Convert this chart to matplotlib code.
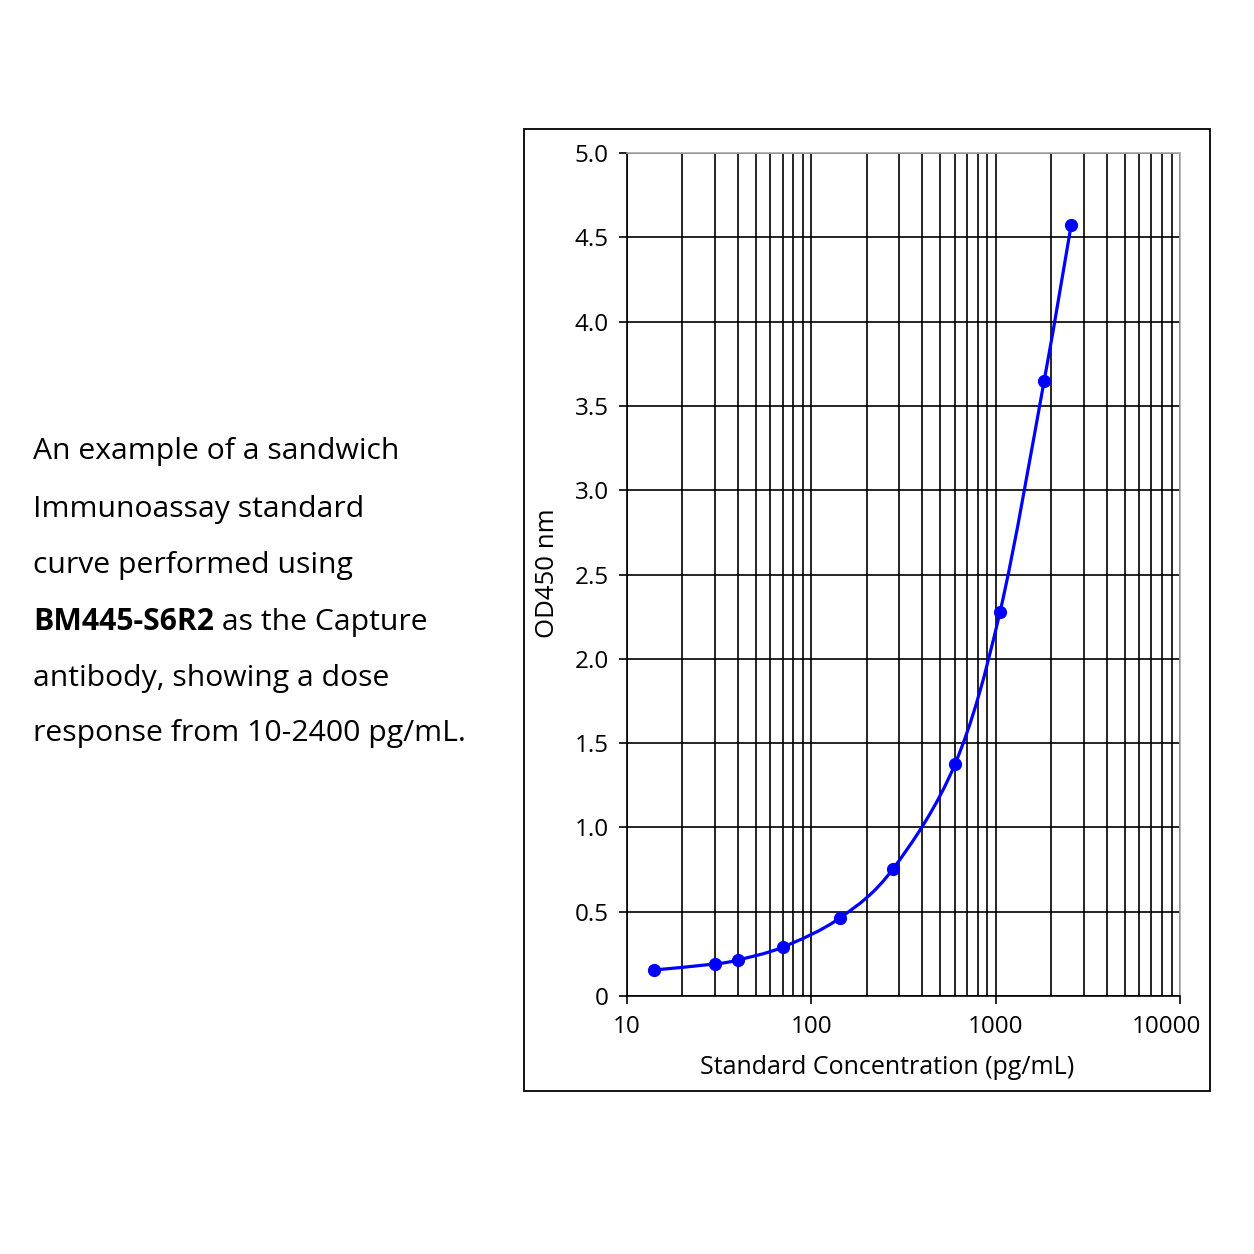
import numpy as np
import matplotlib
matplotlib.use("Agg")
import matplotlib.pyplot as plt
import matplotlib.transforms as mtransforms
from matplotlib.path import Path
from matplotlib.patches import PathPatch, Rectangle
from matplotlib.text import Annotation
from matplotlib.ticker import LogLocator, FixedLocator, NullFormatter

plt.rcParams['font.family'] = ['Open Sans', 'DejaVu Sans']

# standard curve readings
conc = [14, 30, 40, 70, 143, 277, 602, 1057, 1833, 2565]
od = [0.154, 0.19, 0.214, 0.29, 0.463, 0.753, 1.376, 2.28, 3.65, 4.57]

caption = ["An example of a sandwich",
           "Immunoassay standard",
           "curve performed using",
           None,
           "antibody, showing a dose",
           "response from 10-2400 pg/mL."]
bold_part = "BM445-S6R2"
rest_part = " as the Capture"

yticks = [0, 0.5, 1.0, 1.5, 2.0, 2.5, 3.0, 3.5, 4.0, 4.5, 5.0]
ylabels = ["0", "0.5", "1.0", "1.5", "2.0", "2.5", "3.0", "3.5", "4.0", "4.5", "5.0"]
xticks = [10, 100, 1000, 10000]
xlabels = ["10", "100", "1000", "10000"]

W = 1254
fig = plt.figure(figsize=(12.54, 12.54), dpi=100)
ax = fig.add_axes([627 / W, 1 - 996 / W, (1180 - 627) / W, (996 - 153) / W])

ax.set_xscale('log')
ax.set_xlim(10, 10000)
ax.set_ylim(0, 5.0)
ax.xaxis.set_major_locator(FixedLocator(xticks))
ax.set_xticklabels(xlabels)
ax.xaxis.set_minor_locator(LogLocator(base=10, subs=np.arange(2, 10)))
ax.xaxis.set_minor_formatter(NullFormatter())
ax.set_yticks(yticks)
ax.set_yticklabels(ylabels)
ax.grid(True, which='both', axis='x', color='black', lw=1.2)
ax.grid(True, which='major', axis='y', color='black', lw=1.2)
ax.tick_params(axis='both', which='major', length=6, width=1.2, labelsize=17.5, pad=8)
ax.tick_params(axis='y', pad=7)
ax.tick_params(axis='x', which='minor', length=0)
for s in ax.spines.values():
    s.set_linewidth(1.2)
ax.spines['top'].set_color('#aaaaaa')
ax.spines['right'].set_color('#aaaaaa')

# last x label sits a bit left of its tick
lab = ax.get_xticklabels()[-1]
lab.set_transform(lab.get_transform() + mtransforms.ScaledTranslation(-0.14, 0, fig.dpi_scale_trans))

# smooth curve through the points (Catmull-Rom as cubic bezier in log-x space)
lx = np.log10(conc)
yy = np.array(od)
verts = [(conc[0], od[0])]
codes = [Path.MOVETO]
n = len(lx)
for i in range(n - 1):
    p0 = (lx[max(i - 1, 0)], yy[max(i - 1, 0)])
    p1 = (lx[i], yy[i])
    p2 = (lx[i + 1], yy[i + 1])
    p3 = (lx[min(i + 2, n - 1)], yy[min(i + 2, n - 1)])
    c1 = (p1[0] + (p2[0] - p0[0]) / 6, p1[1] + (p2[1] - p0[1]) / 6)
    c2 = (p2[0] - (p3[0] - p1[0]) / 6, p2[1] - (p3[1] - p1[1]) / 6)
    for c in (c1, c2, p2):
        verts.append((10 ** c[0], c[1]))
        codes.append(Path.CURVE4)
ax.add_patch(PathPatch(Path(verts, codes), fill=False, edgecolor='#0000ff', lw=2.3, zorder=3))
ax.plot(conc, od, 'o', color='#0000ff', markersize=8.5, zorder=4, clip_on=False)

# axis titles
fig.text(887 / W, 1 - 1067 / W, "Standard Concentration (pg/mL)", fontsize=18,
         ha='center', va='center')
fig.text(547 / W, 1 - 573 / W, "OD450 nm", fontsize=18.5, rotation=90,
         ha='center', va='center')

# outer frame
fig.patches.append(Rectangle((524 / W, 1 - 1091 / W), (1210 - 524) / W, (1091 - 129) / W,
                             transform=fig.transFigure, fill=False, ec='black', lw=1.3))

# caption on the left
ys = [452, 509, 566, 622, 678, 734]
fs = 21.7
for line, yp in zip(caption, ys):
    if line is not None:
        fig.text(33 / W, 1 - yp / W, line, fontsize=fs, va='center', ha='left')
    else:
        b = fig.text(33 / W, 1 - yp / W, bold_part, fontsize=fs, fontweight='bold', va='center', ha='left')
        fig.add_artist(Annotation(rest_part, xy=(1, 0), xycoords=b, fontsize=fs, va='bottom', ha='left'))

fig.savefig("out.png", dpi=100)
